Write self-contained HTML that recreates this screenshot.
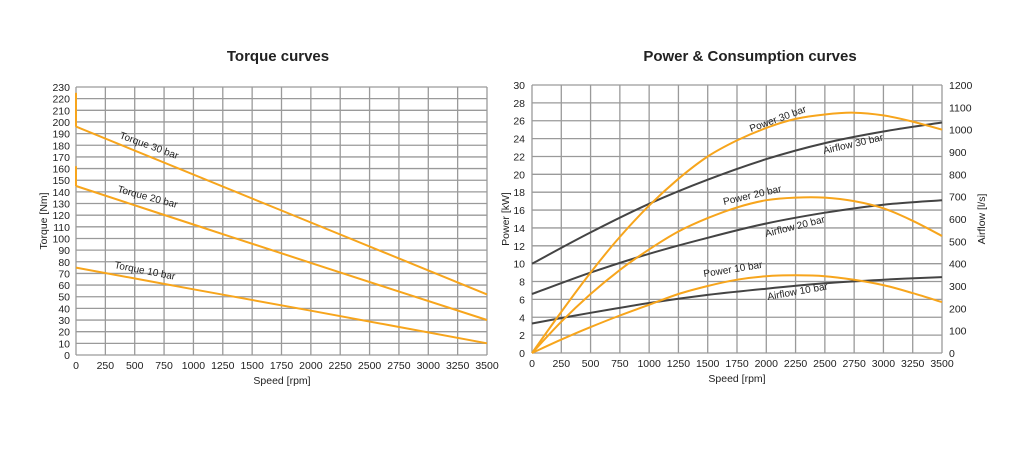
<!DOCTYPE html>
<html><head><meta charset="utf-8"><style>
body{margin:0;background:#fff;}
svg text{font-family:"Liberation Sans",Arial,sans-serif;fill:#222;}
</style></head><body>
<svg id="s" width="1024" height="452" viewBox="0 0 1024 452" xmlns="http://www.w3.org/2000/svg">
<rect width="1024" height="452" fill="#fff"/>
<text x="278" y="61" font-size="15" font-weight="bold" text-anchor="middle">Torque curves</text>
<text x="750" y="61" font-size="15" font-weight="bold" text-anchor="middle">Power &amp; Consumption curves</text>
<g id="g"></g>
</svg>
<script>
var g=document.getElementById('g'),h='';
function ln(x1,y1,x2,y2,c,w){h+='<line x1="'+x1+'" y1="'+y1+'" x2="'+x2+'" y2="'+y2+'" stroke="'+c+'" stroke-width="'+w+'"/>';}
function tx(x,y,t,a,fs,extra){h+='<text x="'+x+'" y="'+y+'" font-size="'+(fs||10.5)+'" text-anchor="'+(a||'start')+'" '+(extra||'')+'>'+t+'</text>';}
function path(pts,c,w){
 var d='M'+pts[0][0].toFixed(1)+','+pts[0][1].toFixed(1);
 for(var i=0;i<pts.length-1;i++){var p0=pts[i-1]||pts[i],p1=pts[i],p2=pts[i+1],p3=pts[i+2]||p2;
  d+=' C'+(p1[0]+(p2[0]-p0[0])/6).toFixed(1)+','+(p1[1]+(p2[1]-p0[1])/6).toFixed(1)+' '+(p2[0]-(p3[0]-p1[0])/6).toFixed(1)+','+(p2[1]-(p3[1]-p1[1])/6).toFixed(1)+' '+p2[0].toFixed(1)+','+p2[1].toFixed(1);}
 h+='<path d="'+d+'" fill="none" stroke="'+c+'" stroke-width="'+w+'" stroke-linejoin="round"/>';}
var OR='#f7a51c',DK='#444';
var L={x0:76,x1:487,y0:355,y1:87};
function lx(v){return L.x0+(L.x1-L.x0)*v/3500;} function ly(v){return L.y0-(L.y0-L.y1)*v/230;}
for(var i=0;i<=14;i++){var x=lx(i*250);ln(x,L.y1,x,L.y0,'#9a9a9a',1.3);tx(x,369,i*250,'middle');}
for(var j=0;j<=23;j++){var y=ly(j*10);ln(L.x0,y,L.x1,y,'#9a9a9a',1.3);tx(70,y+4,j*10,'end');}
tx(282,384,'Speed [rpm]','middle');
tx(0,0,'Torque [Nm]','middle',10.5,'transform="translate(47,221) rotate(-90)"');
ln(lx(0),ly(196),lx(0),ly(225),OR,2);ln(lx(0),ly(145),lx(0),ly(162),OR,2);
path([[lx(0),ly(196)],[lx(3500),ly(52)]],OR,2);
path([[lx(0),ly(145)],[lx(1000),ly(112)],[lx(2000),ly(79)],[lx(3500),ly(30)]],OR,2);
path([[lx(0),ly(75)],[lx(1000),ly(56.4)],[lx(2000),ly(38)],[lx(3500),ly(10)]],OR,2);
tx(0,0,'Torque 30 bar','start',10,'transform="translate(119,138) rotate(20)"');
tx(0,0,'Torque 20 bar','start',10,'transform="translate(117,192) rotate(15)"');
tx(0,0,'Torque 10 bar','start',10,'transform="translate(114,268) rotate(11)"');
var R={x0:532,x1:942,y0:353,y1:85};
function rx(v){return R.x0+(R.x1-R.x0)*v/3500;} function ry(v){return R.y0-(R.y0-R.y1)*v/30;}
for(var i=0;i<=14;i++){var x=rx(i*250);ln(x,R.y1,x,R.y0,'#9a9a9a',1.3);tx(x,367,i*250,'middle');}
for(var j=0;j<=15;j++){var y=ry(j*2);ln(R.x0,y,R.x1,y,'#9a9a9a',1.3);tx(525,y+4,j*2,'end');}
for(var k=0;k<=12;k++){var y=ry(k*2.5);tx(949,y+4,k*100,'start');}
tx(737,382,'Speed [rpm]','middle');
tx(0,0,'Power [kW]','middle',10.5,'transform="translate(509,219) rotate(-90)"');
tx(0,0,'Airflow [l/s]','middle',10.5,'transform="translate(985,219) rotate(-90)"');
function ser(a,c){path(a.map(function(p){return [rx(p[0]),ry(p[1])];}),c,2);}
ser([[0,10],[500,13.5],[1000,16.7],[1500,19.4],[2000,21.7],[2500,23.5],[3000,24.8],[3500,25.8]],DK);
ser([[0,6.6],[500,9],[1000,11.1],[1500,12.9],[2000,14.5],[2500,15.7],[3000,16.6],[3500,17.1]],DK);
ser([[0,3.3],[500,4.5],[1000,5.6],[1500,6.5],[2000,7.2],[2500,7.8],[3000,8.2],[3500,8.5]],DK);
ser([[0,0],[250,4.6],[500,9],[750,13],[1000,16.5],[1250,19.5],[1500,22],[1750,23.8],[2000,25.2],[2250,26.2],[2500,26.7],[2750,26.9],[3000,26.6],[3250,25.9],[3500,25]],OR);
ser([[0,0],[250,3.5],[500,6.6],[750,9.3],[1000,11.6],[1250,13.6],[1500,15.1],[1750,16.3],[2000,17.1],[2250,17.4],[2500,17.4],[2750,17],[3000,16.2],[3250,14.8],[3500,13.1]],OR);
ser([[0,0],[250,1.5],[500,2.9],[750,4.2],[1000,5.4],[1250,6.6],[1500,7.5],[1750,8.2],[2000,8.6],[2250,8.7],[2500,8.6],[2750,8.2],[3000,7.6],[3250,6.7],[3500,5.7]],OR);
tx(0,0,'Power 30 bar','start',10,'transform="translate(751,132) rotate(-20)"');
tx(0,0,'Airflow 30 bar','start',10,'transform="translate(824,154) rotate(-13)"');
tx(0,0,'Power 20 bar','start',10,'transform="translate(724,205) rotate(-13)"');
tx(0,0,'Airflow 20 bar','start',10,'transform="translate(766,237) rotate(-14)"');
tx(0,0,'Power 10 bar','start',10,'transform="translate(704,277) rotate(-9)"');
tx(0,0,'Airflow 10 bar','start',10,'transform="translate(768,300) rotate(-10)"');
g.innerHTML=h;
</script>
</body></html>
